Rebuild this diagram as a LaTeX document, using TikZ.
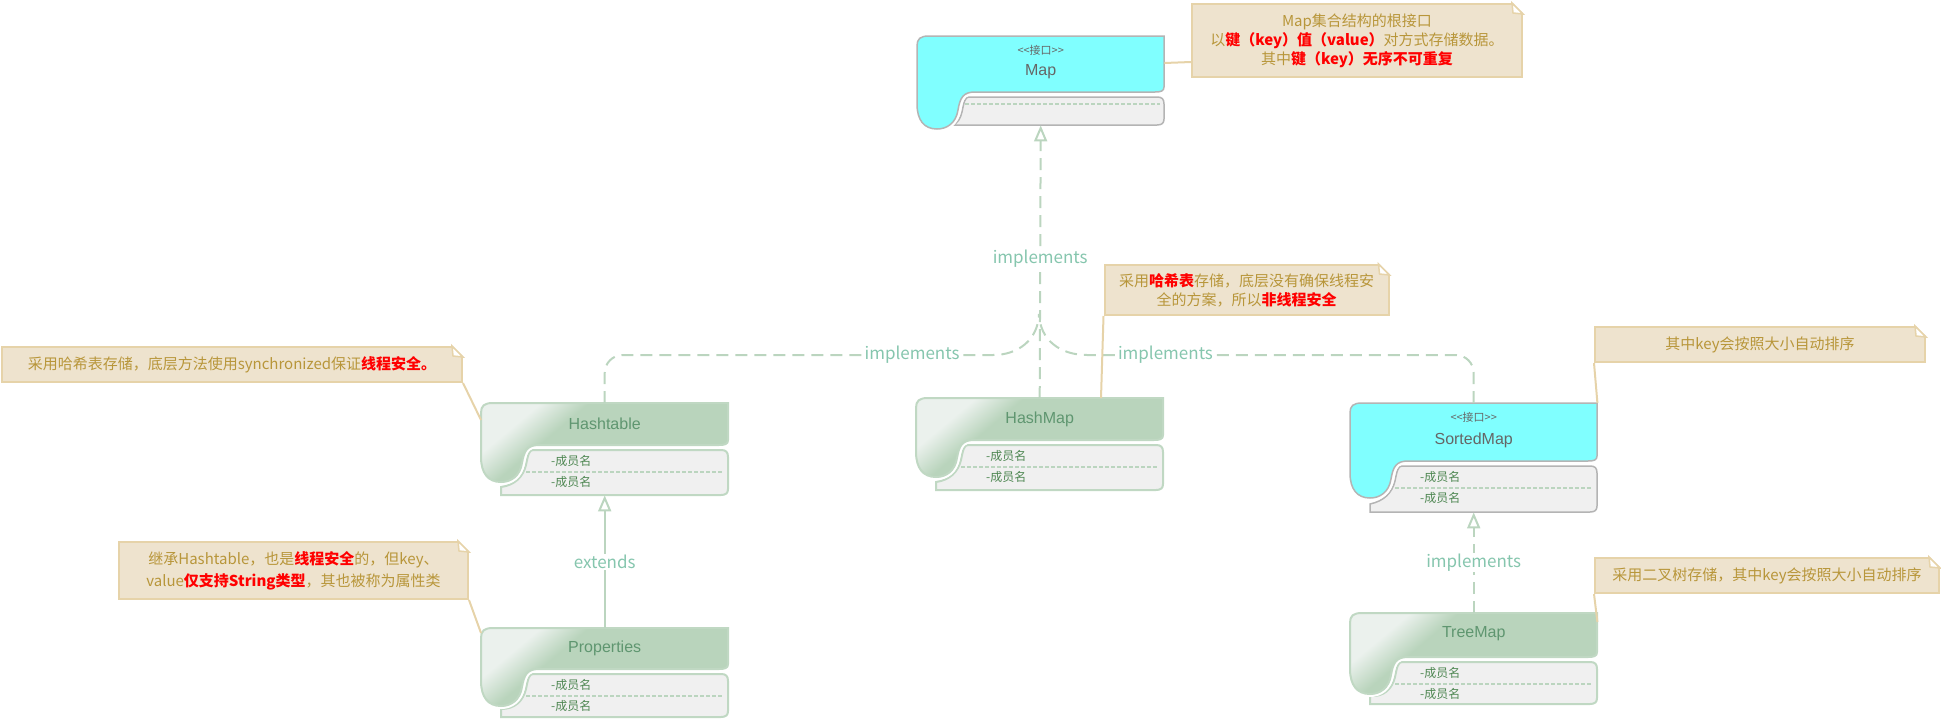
\documentclass[tikz,border=0pt]{standalone}
\usepackage{fontspec}
\setmainfont{Noto Sans CJK SC}
\newfontfamily\latinfont{Liberation Sans}
\usetikzlibrary{arrows.meta,positioning}

\definecolor{ifcfill}{HTML}{80FFFF}
\definecolor{ifcline}{HTML}{B4B4B4}
\definecolor{lowfill}{HTML}{F0F0F0}
\definecolor{clsline}{HTML}{C0D8C3}
\definecolor{hdlight}{HTML}{EBF1ED}
\definecolor{hddark}{HTML}{B9D4BC}
\definecolor{clstext}{HTML}{5F9670}
\definecolor{ifctext}{HTML}{666666}
\definecolor{memtext}{HTML}{4E8752}
\definecolor{conline}{HTML}{BBD5BF}
\definecolor{lbltext}{HTML}{86C6AE}
\definecolor{notefill}{HTML}{EEE3CE}
\definecolor{notebord}{HTML}{E6D3A9}
\definecolor{notetext}{HTML}{B8963A}

\pgfdeclarehorizontalshading{clsshade}{100bp}{color(0bp)=(hdlight); color(27bp)=(hdlight); color(37bp)=(hddark); color(100bp)=(hddark)}

\newcommand\redb[1]{\textcolor{red}{\bfseries #1}}

% box outline: #1 node, #2 header height, #3 lower height, #4 header style, #5 lower style
\newcommand\umlshape[5]{%
  \begin{scope}[shift={(#1.north west)}]
    \path[#5] (52,#2+5) -- (240,#2+5) .. controls (245,#2+5) and (247,#2+7) .. (247,#2+12)
      -- (247,#2+#3-1) .. controls (247,#2+#3+3) and (245,#2+#3+5) .. (240,#2+#3+5)
      -- (20,#2+#3+5) -- (20,#2+#3-3) .. controls (34,#2+40) and (42,#2+32) .. (45,#2+20)
      .. controls (47,#2+10) and (48,#2+5) .. (52,#2+5) -- cycle;
    \path[#4, preaction={draw=white, line width=6pt}] (0,10) .. controls (0,3) and (3,0) .. (12,0) -- (247,0)
      -- (247,#2-5) .. controls (247,#2-1) and (244,#2) .. (238,#2) -- (58,#2)
      .. controls (46,#2) and (43,#2+6) .. (41,#2+18) .. controls (39,#2+31) and (30,#2+37) .. (20,#2+37)
      .. controls (7,#2+37) and (0,#2+28) .. (0,#2+12) -- cycle;
  \end{scope}}

% two members and the dashed separator
\newcommand\umlmembers[2]{%
  \begin{scope}[shift={(#1.north west)}]
    \draw[sepline] (45,#2+27) -- (242,#2+27);
    \node[member] (#1-m1) at (70,#2+16) {-成员名};
    \node[member] (#1-m2) at (70,#2+37) {-成员名};
  \end{scope}}

% folded corner of a note
\newcommand\dogear[1]{%
  \fill[white] ([xshift=-12pt,yshift=2pt]#1.north east) -- ([xshift=2pt,yshift=2pt]#1.north east) -- ([xshift=2pt,yshift=-12pt]#1.north east) -- cycle;
  \draw[notebord, line width=1.5pt, fill=white] ([xshift=-11pt]#1.north east) -- ([xshift=-10pt,yshift=-10pt]#1.north east) -- ([yshift=-11pt]#1.north east) -- cycle;}

\begin{document}
\begin{tikzpicture}[
  x=1pt, y=-1pt,
  umlbox/.style={anchor=north west, minimum width=247pt, inner sep=0pt},
  clshead/.style={draw=clsline, line width=2pt, shade, shading=clsshade, shading angle=-50},
  ifchead/.style={draw=ifcline, line width=1.5pt, fill=ifcfill},
  clslow/.style={draw=clsline, line width=2pt, fill=lowfill},
  ifclow/.style={draw=ifcline, line width=1.5pt, fill=lowfill},
  sepline/.style={draw=conline, line width=2pt, dash pattern=on 4pt off 2pt},
  member/.style={anchor=west, inner sep=0pt, text=memtext, font=\fontsize{12}{14}\selectfont},
  clsname/.style={inner sep=0pt, text=clstext, font=\latinfont\fontsize{16}{18}\selectfont},
  ifcname/.style={inner sep=0pt, text=ifctext, font=\latinfont\fontsize{16}{18}\selectfont},
  stereo/.style={inner sep=0pt, text=ifctext, font=\fontsize{11}{13}\selectfont},
  note/.style={fill=notefill, draw=notebord, line width=2pt, text=notetext, align=center, inner sep=0pt, font=\fontsize{15}{19}\selectfont},
  notelink/.style={draw=notebord, line width=2pt},
  impl/.style={draw=conline, line width=2pt, dash pattern=on 12pt off 7pt},
  extline/.style={draw=conline, line width=2pt},
  gen/.style={-{Triangle[open, length=16pt, width=13pt]}},
  lbl/.style={fill=white, text=lbltext, inner sep=1pt, font=\fontsize{17}{20}\selectfont}
]
\useasboundingbox (0,0) rectangle (1941,721);

% interfaces
\node[umlbox, minimum height=89pt] (map) at (917,36) {};
\umlshape{map}{56}{28}{ifchead}{ifclow}
\draw[sepline] ([xshift=48pt,yshift=-68pt]map.north west) -- ([xshift=-4pt,yshift=-68pt]map.north east);
\node[stereo] (map-st) at ([yshift=-14pt]map.north) {<{}<接口>{}>};
\node[ifcname] (map-name) at ([yshift=-36pt]map.north) {Map};

\node[umlbox, minimum height=109pt] (sm) at (1350,403) {};
\umlshape{sm}{58}{46}{ifchead}{ifclow}
\umlmembers{sm}{58}
\node[stereo] (sm-st) at ([yshift=-14pt]sm.north) {<{}<接口>{}>};
\node[ifcname] (sm-name) at ([yshift=-37pt]sm.north) {SortedMap};

% classes
\node[umlbox, minimum height=92pt] (ht) at (481,403) {};
\umlshape{ht}{42}{45}{clshead}{clslow}
\umlmembers{ht}{42}
\node[clsname] (ht-name) at ([yshift=-21pt]ht.north) {Hashtable};

\node[umlbox, minimum height=92pt] (hm) at (916,398) {};
\umlshape{hm}{42}{45}{clshead}{clslow}
\umlmembers{hm}{42}
\node[clsname] (hm-name) at ([yshift=-21pt]hm.north) {HashMap};

\node[umlbox, minimum height=89pt] (pr) at (481,628) {};
\umlshape{pr}{41}{43}{clshead}{clslow}
\umlmembers{pr}{41}
\node[clsname] (pr-name) at ([yshift=-20pt]pr.north) {Properties};

\node[umlbox, minimum height=91pt] (tm) at (1350,613) {};
\umlshape{tm}{44}{42}{clshead}{clslow}
\umlmembers{tm}{44}
\node[clsname] (tm-name) at ([yshift=-21pt]tm.north) {TreeMap};

% relations
\coordinate (merge) at (1039,314);
\draw[impl] (ht.north) [rounded corners=18pt] |- node[lbl, pos=0.915] (l-ht) {implements} (975,355)
  [sharp corners] .. controls (1018,355) and (1038,340) .. (merge);
\draw[impl] (sm.north) [rounded corners=18pt] |- node[lbl, pos=0.918] (l-sm) {implements} (1105,355)
  [sharp corners] .. controls (1060,355) and (1040,340) .. (merge);
\draw[impl, gen] (hm.north) -- node[lbl, pos=0.51] (l-hm) {implements} (map.south);
\draw[impl, gen] (tm.north) -- node[lbl] (l-tm) {implements} (sm.south);
\draw[extline, gen] (pr.north) -- node[lbl] (l-pr) {extends} (ht.south);

% notes
\node[note, minimum width=330pt, minimum height=73pt] (mapnote) at (1357,40.5)
  {Map集合结构的根接口\\以\redb{键（key）值（value）}对方式存储数据。\\其中\redb{键（key）无序不可重复}};
\node[note, minimum width=460pt, minimum height=35pt] (htnote) at (232,364.5)
  {采用哈希表存储，底层方法使用synchronized保证\redb{线程安全。}};
\node[note, minimum width=284pt, minimum height=50pt] (hmnote) at (1246.5,290)
  {采用\redb{哈希表}存储，底层没有确保线程安\\全的方案，所以\redb{非线程安全}};
\node[note, minimum width=330pt, minimum height=35pt] (smnote) at (1760,344.5)
  {其中key会按照大小自动排序};
\node[note, minimum width=349pt, minimum height=57pt, font=\fontsize{15}{22}\selectfont] (prnote) at (293.5,570.5)
  {继承Hashtable，也是\redb{线程安全}的，但key、\\value\redb{仅支持String类型}，其也被称为属性类};
\node[note, minimum width=344pt, minimum height=35pt] (tmnote) at (1767,575.5)
  {采用二叉树存储，其中key会按照大小自动排序};
\foreach \n in {mapnote,htnote,hmnote,smnote,prnote,tmnote} {\dogear{\n}}

\draw[notelink] ([yshift=-27pt]map.north east) -- ([yshift=16pt]mapnote.south west);
\draw[notelink] (htnote.south east) -- ([yshift=-17pt]ht.north west);
\draw[notelink] (hmnote.south west) -- ([xshift=185pt]hm.north west);
\draw[notelink] (smnote.south west) -- (sm.north east);
\draw[notelink] (prnote.south east) -- ([yshift=-5pt]pr.north west);
\draw[notelink] (tmnote.south west) -- ([yshift=-9pt]tm.north east);
\end{tikzpicture}
\end{document}
